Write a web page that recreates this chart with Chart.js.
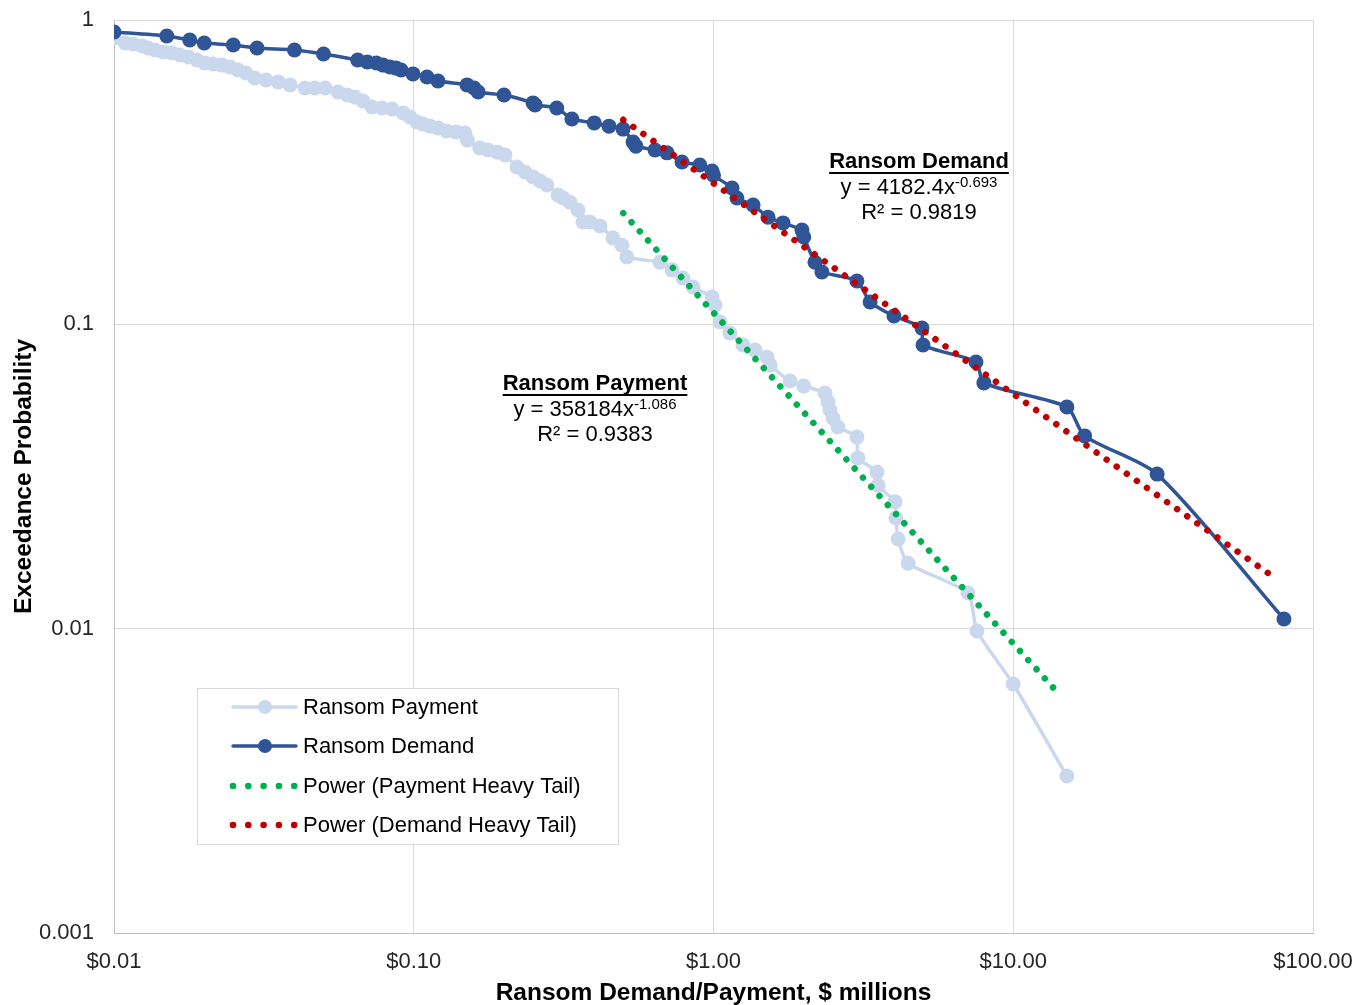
<!DOCTYPE html>
<html><head><meta charset="utf-8">
<script src="https://cdn.jsdelivr.net/npm/chart.js@4.4.1/dist/chart.umd.min.js"></script>
<style>html,body{margin:0;padding:0;background:#fff;}#wrap{width:1355px;height:1005px;position:relative;}</style>
</head><body><div id="wrap"><canvas id="c" width="1355" height="1005"></canvas></div>
<script>
const paymentX = [0.01,0.0109,0.01157,0.0124,0.01298,0.0137,0.01457,0.0156,0.01661,0.0177,0.01892,0.0201,0.02139,0.0229,0.02438,0.0259,0.02756,0.0295,0.03215,0.0353,0.03866,0.0434,0.04683,0.0506,0.0559,0.0599,0.0637,0.0677,0.0726,0.0784,0.0846,0.0921,0.0972,0.1025,0.1074,0.1133,0.1205,0.129,0.1384,0.148,0.151,0.166,0.1769,0.190,0.2016,0.221,0.235,0.250,0.264,0.278,0.303,0.315,0.332,0.353,0.367,0.387,0.418,0.462,0.495,0.514,0.663,0.727,0.791,0.854,0.989,1.012,1.051,1.135,1.254,1.376,1.509,1.544,1.80,2.00,2.355,2.41,2.447,2.504,2.60,3.01,3.03,3.51,3.54,4.03,4.06,4.13,4.46,7.06,7.57,10.0,15.1];
const paymentY = [0.873,0.840,0.834,0.821,0.809,0.797,0.785,0.779,0.767,0.756,0.739,0.722,0.717,0.711,0.701,0.685,0.670,0.645,0.635,0.626,0.612,0.598,0.598,0.598,0.580,0.567,0.558,0.542,0.518,0.514,0.510,0.495,0.480,0.462,0.455,0.448,0.442,0.432,0.4285,0.425,0.403,0.380,0.374,0.368,0.360,0.329,0.3167,0.305,0.2958,0.287,0.266,0.260,0.252,0.2375,0.217,0.217,0.2104,0.192,0.182,0.1665,0.160,0.151,0.142,0.1327,0.123,0.1158,0.1018,0.0937,0.0855,0.0823,0.078,0.0735,0.0651,0.0627,0.0595,0.0556,0.0523,0.0492,0.046,0.0426,0.0364,0.0327,0.0296,0.0261,0.0231,0.0197,0.0164,0.0131,0.00982,0.00658,0.00328];
const demandX = [0.01,0.015,0.0179,0.020,0.025,0.030,0.040,0.050,0.065,0.070,0.075,0.079,0.0833,0.0873,0.0907,0.0994,0.1107,0.1205,0.1506,0.159,0.164,0.20,0.25,0.254,0.30,0.337,0.40,0.448,0.499,0.539,0.551,0.638,0.70,0.785,0.90,0.989,1.0,1.153,1.197,1.355,1.52,1.706,1.973,2.0,2.18,2.30,3.01,3.33,4.0,4.96,5.0,7.51,7.98,15.1,17.3,30.2,80];
const demandY = [0.913,0.886,0.860,0.840,0.828,0.809,0.797,0.773,0.739,0.728,0.722,0.711,0.701,0.695,0.685,0.665,0.650,0.630,0.612,0.598,0.580,0.567,0.534,0.526,0.514,0.473,0.459,0.448,0.438,0.397,0.385,0.374,0.366,0.3415,0.334,0.319,0.309,0.2805,0.260,0.2466,0.225,0.2154,0.204,0.1936,0.160,0.1486,0.1388,0.1184,0.1065,0.0972,0.0855,0.0752,0.0642,0.0535,0.043,0.0322,0.01076];
const paymentTrendX = [0.5, 14];
const paymentTrendY = [0.232, 0.0062];
const demandTrendX = [0.5, 76];
const demandTrendY = [0.47, 0.0145];
const xTickValues = [0.01, 0.1, 1, 10, 100];
const xTickLabels = ['$0.01', '$0.10', '$1.00', '$10.00', '$100.00'];
const yTickValues = [0.001, 0.01, 0.1, 1];
const yTickLabels = ['0.001', '0.01', '0.1', '1'];
const seriesNames = ['Ransom Payment', 'Ransom Demand', 'Power (Payment Heavy Tail)', 'Power (Demand Heavy Tail)'];
const xTitle = 'Ransom Demand/Payment, $ millions';
const yTitle = 'Exceedance Probability';
const demandLabel = ['Ransom Demand', 'y = 4182.4x', '-0.693', 'R\u00B2 = 0.9819'];
const paymentLabel = ['Ransom Payment', 'y = 358184x', '-1.086', 'R\u00B2 = 0.9383'];

const C_PAY = '#CAD8EE', C_DEM = '#2F5597', C_GREEN = '#00B050', C_RED = '#C00000';
const FONT = '"Liberation Sans", Arial, sans-serif';
const zip = (xs, ys) => xs.map((x, i) => ({x, y: ys[i]}));

function drawAnnotation(ctx, cx, y0, lab) {
  ctx.save();
  ctx.fillStyle = '#000';
  ctx.textBaseline = 'middle';
  ctx.textAlign = 'left';
  ctx.font = 'bold 22px ' + FONT;
  let w = ctx.measureText(lab[0]).width;
  ctx.fillText(lab[0], cx - w / 2, y0);
  ctx.fillRect(cx - w / 2, y0 + 10, w, 2);
  ctx.font = '22px ' + FONT;
  const w1 = ctx.measureText(lab[1]).width;
  ctx.font = '15px ' + FONT;
  const w2 = ctx.measureText(lab[2]).width;
  const s = cx - (w1 + w2) / 2;
  ctx.font = '22px ' + FONT;
  ctx.fillText(lab[1], s, y0 + 26);
  ctx.font = '15px ' + FONT;
  ctx.fillText(lab[2], s + w1, y0 + 21);
  ctx.font = '22px ' + FONT;
  w = ctx.measureText(lab[3]).width;
  ctx.fillText(lab[3], cx - w / 2, y0 + 51);
  ctx.restore();
}

const overlay = {
  id: 'overlay',
  afterDraw(chart) {
    const ctx = chart.ctx;
    drawAnnotation(ctx, 919, 162, demandLabel);
    drawAnnotation(ctx, 595, 384, paymentLabel);
    ctx.save();
    ctx.fillStyle = '#fff';
    ctx.fillRect(197, 688, 422, 157);
    ctx.strokeStyle = '#D9D9D9';
    ctx.lineWidth = 1;
    ctx.strokeRect(197.5, 688.5, 421, 156);
    const rows = [707, 746, 786, 825];
    chart.data.datasets.forEach((ds, i) => {
      const y = rows[i];
      if (i < 2) {
        ctx.strokeStyle = ds.borderColor;
        ctx.lineWidth = 3.5;
        ctx.lineCap = 'round';
        ctx.beginPath(); ctx.moveTo(233, y); ctx.lineTo(296, y); ctx.stroke();
        ctx.fillStyle = ds.pointBackgroundColor;
        ctx.beginPath(); ctx.arc(265, y, 7, 0, Math.PI * 2); ctx.fill();
      } else {
        ctx.fillStyle = ds.borderColor;
        for (let k = 0; k < 5; k++) {
          ctx.beginPath(); ctx.arc(233 + k * 15.3, y, 3.3, 0, Math.PI * 2); ctx.fill();
        }
      }
      ctx.fillStyle = '#000';
      ctx.font = '22px ' + FONT;
      ctx.textBaseline = 'middle';
      ctx.textAlign = 'left';
      ctx.fillText(ds.label, 303, y + 1);
    });
    ctx.restore();
  }
};

new Chart(document.getElementById('c'), {
  type: 'scatter',
  data: {
    datasets: [
      { label: seriesNames[0], data: zip(paymentX, paymentY), showLine: true, borderColor: C_PAY, backgroundColor: C_PAY,
        pointBackgroundColor: C_PAY, pointBorderWidth: 0, pointRadius: 7.5, borderWidth: 3.5, tension: 0.2, order: 4 },
      { label: seriesNames[1], data: zip(demandX, demandY), showLine: true, borderColor: C_DEM, backgroundColor: C_DEM,
        pointBackgroundColor: C_DEM, pointBorderWidth: 0, pointRadius: 7.5, borderWidth: 3.5, tension: 0.25, order: 3 },
      { label: seriesNames[2], data: zip(paymentTrendX, paymentTrendY), showLine: true, borderColor: C_GREEN, backgroundColor: C_GREEN,
        pointRadius: 0, borderWidth: 6.5, borderDash: [0.01, 12.3], borderCapStyle: 'round', order: 2 },
      { label: seriesNames[3], data: zip(demandTrendX, demandTrendY), showLine: true, borderColor: C_RED, backgroundColor: C_RED,
        pointRadius: 0, borderWidth: 6.5, borderDash: [0.01, 12.3], borderCapStyle: 'round', order: 1 }
    ]
  },
  options: {
    responsive: false, animation: false, devicePixelRatio: 1,
    layout: { padding: { top: 20, right: 42, left: 0, bottom: 0 } },
    plugins: { legend: { display: false }, tooltip: { enabled: false } },
    scales: {
      x: {
        type: 'logarithmic', min: 0.01, max: 100,
        afterBuildTicks: s => { s.ticks = xTickValues.map(v => ({ value: v })); },
        afterFit: s => { s.height = 72; s.paddingLeft = 0; s.paddingRight = 0; },
        ticks: { autoSkip: false, maxRotation: 0, padding: 16, color: '#262626', font: { family: FONT, size: 22 },
          callback: (v) => { const i = xTickValues.findIndex(t => Math.abs(t - v) / t < 1e-6); return i >= 0 ? xTickLabels[i] : ''; } },
        grid: { color: '#D9D9D9', lineWidth: 1, drawTicks: false },
        border: { color: '#BFBFBF', width: 1 },
        title: { display: true, text: xTitle, color: '#000', font: { family: FONT, size: 24.5, weight: 'bold', lineHeight: 1.0 }, padding: { top: 0, bottom: 0 } }
      },
      y: {
        type: 'logarithmic', min: 0.001, max: 1,
        afterBuildTicks: s => { s.ticks = yTickValues.map(v => ({ value: v })); },
        afterFit: s => { s.width = 114; s.paddingTop = 0; s.paddingBottom = 0; },
        ticks: { autoSkip: false, padding: 20, color: '#262626', font: { family: FONT, size: 22 },
          callback: (v) => { const i = yTickValues.findIndex(t => Math.abs(t - v) / t < 1e-6); return i >= 0 ? yTickLabels[i] : ''; } },
        grid: { color: '#D9D9D9', lineWidth: 1, drawTicks: false },
        border: { color: '#BFBFBF', width: 1 },
        title: { display: true, text: yTitle, color: '#000', font: { family: FONT, size: 24.5, weight: 'bold' }, padding: { top: 10, bottom: 0 } }
      }
    }
  },
  plugins: [overlay]
});
</script>
</body></html>
